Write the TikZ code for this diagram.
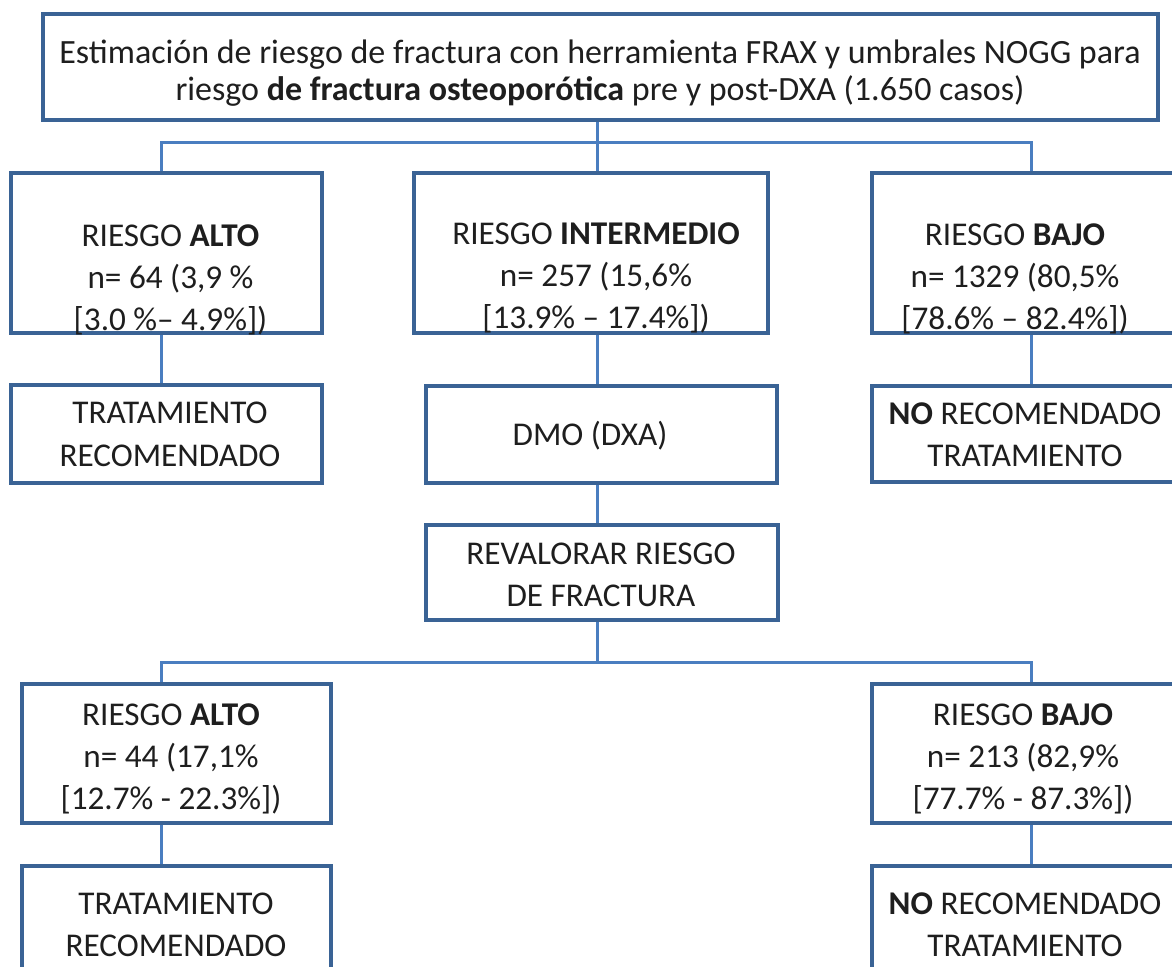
\documentclass[tikz,border=0pt]{standalone}
\usepackage{fontspec}
\setmainfont{Carlito}
\usetikzlibrary{backgrounds}
\definecolor{boxblue}{HTML}{3A6395}
\definecolor{linkblue}{HTML}{4A7EC0}
\definecolor{txtgray}{HTML}{1E1E1E}
\tikzset{
  box/.style={draw=boxblue, line width=1.75pt, fill=white, inner sep=0pt},
  txt/.style={inner sep=0pt, align=center, text=txtgray, font=\fontsize{16.6}{21.2}\selectfont},
  link/.style={draw=linkblue, line width=1.5pt}
}

\begin{document}
\begin{tikzpicture}[x=0.5pt, y=-0.5pt]

\path[use as bounding box] (0,0) rectangle (1172,967);
\clip (0,0) rectangle (1172,967);

% columns of the connectors
\coordinate (colL) at (161,0);
\coordinate (colM) at (597,0);
\coordinate (colR) at (1031,0);
\coordinate (bus1) at (0,143);
\coordinate (bus2) at (0,662);

% boxes
\node[box, minimum width=557.5pt, minimum height=53pt] (top) at (600.5,67) {};
\node[box, minimum width=155.5pt, minimum height=80pt] (alto1) at (166.5,253) {};
\node[box, minimum width=177pt, minimum height=80pt] (inter) at (591,253) {};
\node[box, minimum width=159pt, minimum height=80pt] (bajo1) at (1031,253) {};
\node[box, minimum width=155.5pt, minimum height=49pt] (trat1) at (166.5,434) {};
\node[box, minimum width=175.5pt, minimum height=48.5pt] (dmo) at (601.5,434.5) {};
\node[box, minimum width=159pt, minimum height=48pt] (noRec1) at (1031,434) {};
\node[box, minimum width=176pt, minimum height=47.5pt] (reval) at (602,572.5) {};
\node[box, minimum width=154.5pt, minimum height=69.5pt] (alto2) at (176.5,753.5) {};
\node[box, minimum width=159pt, minimum height=69.5pt] (bajo2) at (1031,753.5) {};
\node[box, minimum width=154.5pt, minimum height=59pt] (trat2) at (176.5,925) {};
\node[box, minimum width=159pt, minimum height=59pt] (noRec2) at (1031,925) {};

% texts
\node[txt, font=\fontsize{17}{18.5}\selectfont] (topT) at (600,73) {Estimación de riesgo de fractura con herramienta FRAX y umbrales NOGG para\\riesgo \textbf{de fractura osteoporótica} pre y post-DXA (1.650 casos)};
\node[txt] (alto1T) at (170.5,280) {RIESGO \textbf{ALTO}\\n= 64 (3,9 \%\\{[}3.0 \%-- 4.9\%{]})};
\node[txt] (interT) at (596,278) {RIESGO \textbf{INTERMEDIO}\\n= 257 (15,6\%\\{[}13.9\% -- 17.4\%{]})};
\node[txt] (bajo1T) at (1015,279) {RIESGO \textbf{BAJO}\\n= 1329 (80,5\%\\{[}78.6\% -- 82.4\%{]})};
\node[txt] (trat1T) at (170,434.5) {TRATAMIENTO\\RECOMENDADO};
\node[txt] (dmoT) at (590,436) {DMO (DXA)};
\node[txt] (noRec1T) at (1025,435) {\textbf{NO} RECOMENDADO\\TRATAMIENTO};
\node[txt] (revalT) at (601,575) {REVALORAR RIESGO\\DE FRACTURA};
\node[txt] (alto2T) at (171,759) {RIESGO \textbf{ALTO}\\n= 44 (17,1\%\\{[}12.7\% - 22.3\%{]})};
\node[txt] (bajo2T) at (1023,759) {RIESGO \textbf{BAJO}\\n= 213 (82,9\%\\{[}77.7\% - 87.3\%{]})};
\node[txt] (trat2T) at (176,925) {TRATAMIENTO\\RECOMENDADO};
\node[txt] (noRec2T) at (1025,925) {\textbf{NO} RECOMENDADO\\TRATAMIENTO};

% connectors, behind the boxes
\begin{scope}[on background layer]
\draw[link] (alto1.north -| colL) |- (bus1 -| colR) -- (bajo1.north -| colR);
\draw[link] (top.south -| colM) -- (inter.north -| colM);
\draw[link] (alto1.south -| colL) -- (trat1.north -| colL);
\draw[link] (inter.south -| colM) -- (dmo.north -| colM);
\draw[link] (bajo1.south -| colR) -- (noRec1.north -| colR);
\draw[link] (dmo.south -| colM) -- (reval.north -| colM);
\draw[link] (reval.south -| colM) -- (bus2 -| colM);
\draw[link] (alto2.north -| colL) |- (bus2 -| colR) -- (bajo2.north -| colR);
\draw[link] (alto2.south -| colL) -- (trat2.north -| colL);
\draw[link] (bajo2.south -| colR) -- (noRec2.north -| colR);
\end{scope}
\end{tikzpicture}
\end{document}
